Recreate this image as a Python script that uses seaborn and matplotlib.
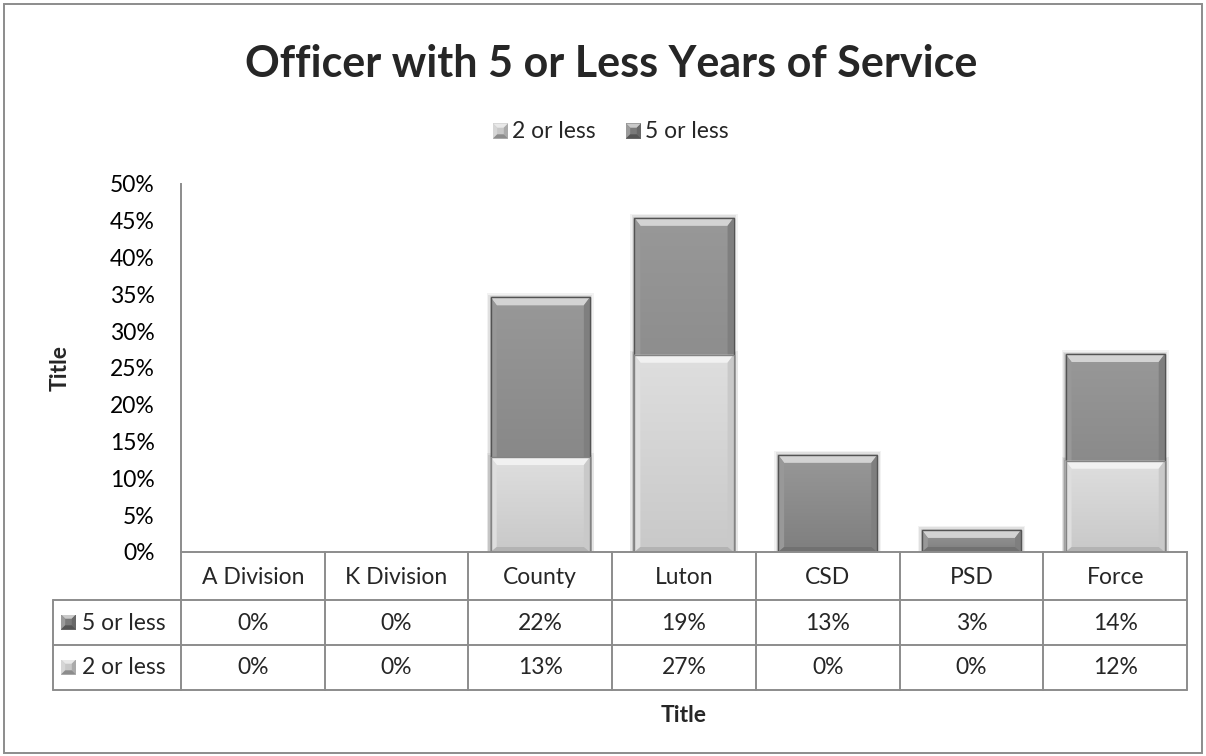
import numpy as np
import pandas as pd
import matplotlib
matplotlib.use("Agg")
import matplotlib.pyplot as plt
from matplotlib.patches import Polygon, Rectangle
from matplotlib.lines import Line2D
import seaborn as sns

# ---- data ----
categories = ["A Division", "K Division", "County", "Luton", "CSD", "PSD", "Force"]
two_or_less = [0.0, 0.0, 0.129, 0.268, 0.0, 0.0, 0.124]
five_or_less = [0.0, 0.0, 0.217, 0.186, 0.132, 0.030, 0.145]
two_labels = ["0%", "0%", "13%", "27%", "0%", "0%", "12%"]
five_labels = ["0%", "0%", "22%", "19%", "13%", "3%", "14%"]
series_names = ["2 or less", "5 or less"]
yticks = [0, 0.05, 0.10, 0.15, 0.20, 0.25, 0.30, 0.35, 0.40, 0.45, 0.50]
ytick_labels = ["0%", "5%", "10%", "15%", "20%", "25%", "30%", "35%", "40%", "45%", "50%"]
title = "Officer with 5 or Less Years of Service"

sns.set_theme(style="white")
plt.rcParams["font.family"] = ["Lato", "DejaVu Sans"]

FS = 16.5
W, H = 1206, 756
fig = plt.figure(figsize=(W / 100, H / 100), dpi=100)
fig.patch.set_facecolor("white")

# plot area in pixels
L, R, T, B = 181, 1187, 184, 552
ax = fig.add_axes([L / W, 1 - B / H, (R - L) / W, (B - T) / H])

totals = [a + b for a, b in zip(two_or_less, five_or_less)]
df = pd.DataFrame({"cat": categories, "total": totals, "two": two_or_less})

DARK = "#8a8a8a"
LIGHT = "#dadada"
bw = 0.69
sns.barplot(data=df, x="cat", y="total", color=DARK, width=bw, ax=ax,
            saturation=1, edgecolor="#5a5a5a", linewidth=0.8, zorder=2)
n_dark = len(ax.patches)
sns.barplot(data=df, x="cat", y="two", color=LIGHT, width=bw, ax=ax,
            saturation=1, edgecolor="#8a8a8a", linewidth=0.8, zorder=3)

ax.set_xlim(-0.5, len(categories) - 0.5)
ax.set_ylim(0, 0.5)

px_x = (R - L) / len(categories)
px_y = (B - T) / 0.5


def shade(c, f):
    c = np.array(matplotlib.colors.to_rgb(c))
    if f > 0:
        return tuple(c + (1 - c) * f)
    return tuple(c * (1 + f))


for i, p in enumerate(ax.patches):
    x0, y0 = p.get_x(), p.get_y()
    w, h = p.get_width(), p.get_height()
    if h <= 1e-6:
        p.set_visible(False)
        continue
    base = DARK if i < n_dark else LIGHT
    z = p.get_zorder()
    # soft shadow
    for k, a in [(4, 0.05), (2.5, 0.07), (1.2, 0.09)]:
        ax.add_patch(Rectangle((x0 - k / px_x, y0), w + 2 * k / px_x, h + k / px_y,
                               facecolor="black", alpha=a, edgecolor="none", zorder=1,
                               clip_on=True))
    # gradient face
    grad = np.linspace(0, 1, 64).reshape(-1, 1)
    top_c = np.array(shade(base, 0.12))
    bot_c = np.array(shade(base, -0.08))
    img = top_c[None, None, :] * (1 - grad[:, :, None]) + bot_c[None, None, :] * grad[:, :, None]
    im = ax.imshow(img, extent=[x0, x0 + w, y0, y0 + h], aspect="auto",
                   origin="upper", zorder=z + 0.1, interpolation="bilinear")
    im.set_clip_path(p)
    bt = min(8 / px_y, h / 2.2)
    bb = min(5 / px_y, h / 3)
    bs = 6 / px_x
    x1, y1 = x0 + w, y0 + h
    polys = [
        ([(x0, y1), (x1, y1), (x1 - bs, y1 - bt), (x0 + bs, y1 - bt)], shade(base, 0.62)),
        ([(x0, y0), (x0, y1), (x0 + bs, y1 - bt), (x0 + bs, y0 + bb)], shade(base, 0.12)),
        ([(x1, y0), (x1, y1), (x1 - bs, y1 - bt), (x1 - bs, y0 + bb)], shade(base, -0.08)),
        ([(x0, y0), (x1, y0), (x1 - bs, y0 + bb), (x0 + bs, y0 + bb)], shade(base, -0.18)),
    ]
    for pts, col in polys:
        ax.add_patch(Polygon(pts, closed=True, facecolor=col, edgecolor="none", zorder=z + 0.2))
    ax.add_patch(Rectangle((x0, y0), w, h, fill=False, edgecolor=shade(base, -0.4),
                           linewidth=1.0, zorder=z + 0.3))

ax.set_xlim(-0.5, len(categories) - 0.5)
ax.set_ylim(0, 0.5)
ax.set_yticks(yticks)
ax.set_yticklabels(ytick_labels, fontsize=FS, color="black")
ax.tick_params(axis="y", length=0, pad=19)
ax.set_xticks([])
ax.set_xlabel("")
ax.set_ylabel("")
ax.grid(False)
for s in ["top", "right"]:
    ax.spines[s].set_visible(False)
for s in ["left", "bottom"]:
    ax.spines[s].set_color("#8c8c8c")
    ax.spines[s].set_linewidth(1.4)
    ax.spines[s].set_zorder(5)
ax.set_facecolor("none")


# ---- data table drawn in figure pixel coords ----
def fx(x):
    return x / W


def fy(y):
    return 1 - y / H


line_kw = dict(color="#8c8c8c", linewidth=1.4, transform=fig.transFigure)
rows_y = [552, 600, 645, 690]
key_left = 53
bounds = [L + i * px_x for i in range(len(categories) + 1)]
for y in rows_y[1:]:
    fig.add_artist(Line2D([fx(key_left), fx(R)], [fy(y), fy(y)], **line_kw))
for xb in bounds:
    fig.add_artist(Line2D([fx(xb), fx(xb)], [fy(552), fy(690)], **line_kw))
fig.add_artist(Line2D([fx(key_left), fx(key_left)], [fy(600), fy(690)], **line_kw))

for i, c in enumerate(categories):
    cx = (bounds[i] + bounds[i + 1]) / 2
    fig.text(fx(cx), fy(577), c, ha="center", va="center", fontsize=FS)
    fig.text(fx(cx), fy(623), five_labels[i], ha="center", va="center", fontsize=FS)
    fig.text(fx(cx), fy(668), two_labels[i], ha="center", va="center", fontsize=FS)


def key(xp, yp, base):
    s = 15
    x0, y0 = xp, yp - s / 2
    ax_k = fig.add_axes([fx(x0), fy(y0 + s), s / W, s / H])
    ax_k.set_xlim(0, 1)
    ax_k.set_ylim(0, 1)
    ax_k.axis("off")
    b = 0.28
    ax_k.add_patch(Rectangle((0, 0), 1, 1, facecolor=base, edgecolor="none"))
    ax_k.add_patch(Polygon([(0, 1), (1, 1), (1 - b, 1 - b), (b, 1 - b)], facecolor=shade(base, 0.6), edgecolor="none"))
    ax_k.add_patch(Polygon([(0, 0), (0, 1), (b, 1 - b), (b, b)], facecolor=shade(base, 0.25), edgecolor="none"))
    ax_k.add_patch(Polygon([(1, 0), (1, 1), (1 - b, 1 - b), (1 - b, b)], facecolor=shade(base, -0.15), edgecolor="none"))
    ax_k.add_patch(Polygon([(0, 0), (1, 0), (1 - b, b), (b, b)], facecolor=shade(base, -0.3), edgecolor="none"))


key(61, 622, "#7a7a7a")
fig.text(fx(82), fy(623), series_names[1], ha="left", va="center", fontsize=FS)
key(61, 667, "#c8c8c8")
fig.text(fx(82), fy(668), series_names[0], ha="left", va="center", fontsize=FS)

# ---- legend on top ----
key(493, 131, "#c8c8c8")
fig.text(fx(512), fy(132), series_names[0], ha="left", va="center", fontsize=FS)
key(626, 131, "#7a7a7a")
fig.text(fx(645), fy(132), series_names[1], ha="left", va="center", fontsize=FS)

# ---- titles ----
fig.text(fx(611), fy(64), title, ha="center", va="center", fontsize=31, fontweight="bold")
fig.text(fx(60), fy(368), "Title", ha="center", va="center", rotation=90,
         fontsize=FS, fontweight="bold")
fig.text(fx(684), fy(715), "Title", ha="center", va="center", fontsize=FS, fontweight="bold")

# outer border
fig.add_artist(Rectangle((fx(4), fy(753)), (W - 8) / W, (749) / H, fill=False,
                         edgecolor="#8c8c8c", linewidth=1.4, transform=fig.transFigure))

fig.savefig("out.png", dpi=100)
